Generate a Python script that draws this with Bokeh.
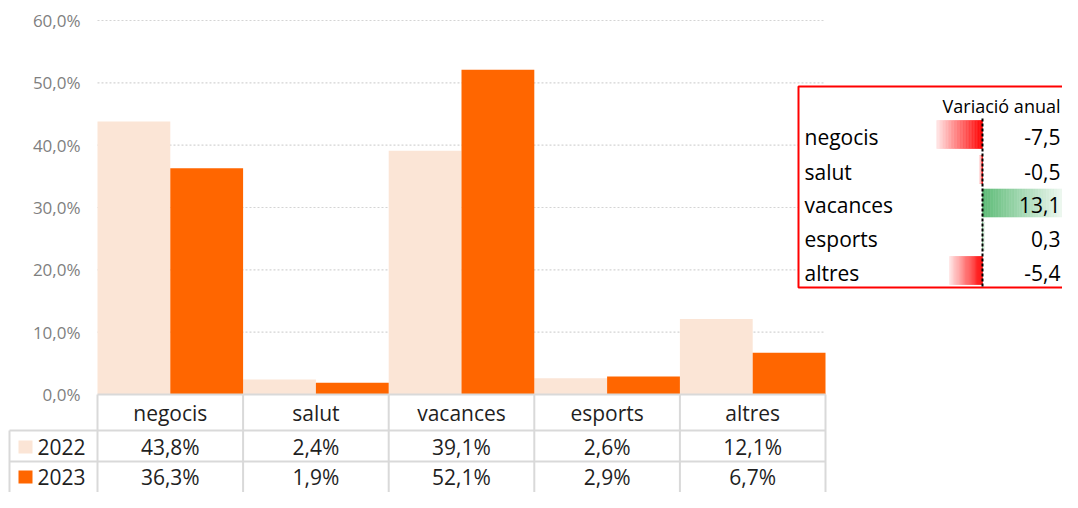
from bokeh.plotting import figure
from bokeh.models import Range1d, ColumnDataSource
from bokeh.transform import dodge
from bokeh.core.properties import value
from bokeh.embed import file_html
from bokeh.resources import INLINE

# ---------------- data ----------------
categories = ["negocis", "salut", "vacances", "esports", "altres"]
years = ["2022", "2023"]
v2022 = [43.8, 2.4, 39.1, 2.6, 12.1]
v2023 = [36.3, 1.9, 52.1, 2.9, 6.7]
variacio = [-7.5, -0.5, 13.1, 0.3, -5.4]
y_ticks = [0, 10, 20, 30, 40, 50, 60]
var_title = "Variació anual"

# ---------------- styles / layout ----------------
W, H = 1062, 492
FONT = "Open Sans"
C2022 = "#FBE5D6"
C2023 = "#FF6600"
GRID = "#d4d4d4"
TABLE_LINE = "#d9d9d9"
TXT = "#1f1f1f"
AXIS_TXT = "#7f7f7f"

# numeric scales: category index on x, percent on y
XS0, XS1 = -1.1662, 6.1277
Y0, Y1 = -15.722, 63.209
PX = (XS1 - XS0) / W
PY = (Y1 - Y0) / H


def dx(px):  # canvas pixel -> x data
    return XS0 + px * PX


def dy(py):  # canvas pixel -> y data
    return Y1 - py * PY


# secondary scale for the variation data bars
BOX_SHIFT = -12
ZERO_PX = 994 + BOX_SHIFT
UNIT_PX = 6.1
VS0, VS1 = -ZERO_PX / UNIT_PX, (W - ZERO_PX) / UNIT_PX

p = figure(width=W, height=H, x_range=Range1d(XS0, XS1), y_range=Range1d(Y0, Y1),
           output_backend="svg", toolbar_location=None, x_axis_type=None, y_axis_type=None,
           min_border=0, min_border_left=0, min_border_right=0, min_border_top=0, min_border_bottom=0)
p.extra_x_ranges = {"var": Range1d(VS0, VS1)}
p.outline_line_color = None
p.background_fill_color = "white"
p.border_fill_color = "white"

n = len(categories)
idx = list(range(n))

# dotted gridlines
grid_t = [t for t in y_ticks if t > 0]
p.segment(x0=[-0.5] * len(grid_t), x1=[n - 0.5] * len(grid_t), y0=grid_t, y1=grid_t,
          line_color=GRID, line_width=1.2, line_dash="2 2")

# bars
src = ColumnDataSource(dict(idx=idx, cat=categories, a=v2022, b=v2023))
p.vbar(x=dodge("idx", -0.25), top="a", bottom=0, width=0.5, source=src,
       fill_color=C2022, line_color=None)
p.vbar(x=dodge("idx", 0.25), top="b", bottom=0, width=0.5, source=src,
       fill_color=C2023, line_color=None)

# y tick labels
fmt = lambda v: f"{v:.1f}".replace(".", ",") + "%"
p.text(x=[dx(80)] * len(y_ticks), y=y_ticks, text=[fmt(t) for t in y_ticks],
       text_align="right", text_baseline="middle", text_color=AXIS_TXT,
       text_font=value(FONT), text_font_size="17px")

# data table lines
ybot = dy(520)
ROW1, ROW2 = 430, 461
row_lines = [(dx(97), 0), (dx(9), dy(ROW1)), (dx(9), dy(ROW2))]
p.segment(x0=[r[0] for r in row_lines], x1=[n - 0.5] * 3,
          y0=[r[1] for r in row_lines], y1=[r[1] for r in row_lines],
          line_color=TABLE_LINE, line_width=2)
vx = [i - 0.5 for i in range(n + 1)]
p.segment(x0=vx, x1=vx, y0=[0] * len(vx), y1=[ybot] * len(vx),
          line_color=TABLE_LINE, line_width=2)
p.segment(x0=[dx(9)], x1=[dx(9)], y0=[dy(ROW1)], y1=[ybot],
          line_color=TABLE_LINE, line_width=2)

# table texts
TY = [412, 446, 476]
p.text(x=idx, y=[dy(TY[0])] * n, text=categories, text_align="center", text_baseline="middle",
       text_color=TXT, text_font=value(FONT), text_font_size="21px")
p.text(x=idx, y=[dy(TY[1])] * n, text=[fmt(v) for v in v2022], text_align="center",
       text_baseline="middle", text_color=TXT, text_font=value(FONT), text_font_size="21px")
p.text(x=idx, y=[dy(TY[2])] * n, text=[fmt(v) for v in v2023], text_align="center",
       text_baseline="middle", text_color=TXT, text_font=value(FONT), text_font_size="21px")

# legend keys in table
p.quad(left=[dx(18)] * 2, right=[dx(32)] * 2,
       top=[dy(TY[1] - 6), dy(TY[2] - 6)], bottom=[dy(TY[1] + 7), dy(TY[2] + 7)],
       fill_color=[C2022, C2023], line_color=None)
p.text(x=[dx(37)] * 2, y=[dy(TY[1]), dy(TY[2])], text=years, text_align="left",
       text_baseline="middle", text_color=TXT, text_font=value(FONT), text_font_size="21px")

# ---------------- variation box ----------------
p.quad(left=[dx(810 + BOX_SHIFT)], right=[dx(1100)], top=[dy(86)], bottom=[dy(287)],
       fill_color="white", line_color="#FF0000", line_width=2)

row_c = [134, 169, 202.5, 236, 270]
bar_h = 28 * PY
N = 30


def mix(hexc, t):
    r, g, b = int(hexc[1:3], 16), int(hexc[3:5], 16), int(hexc[5:7], 16)
    r = int(r + (255 - r) * t)
    g = int(g + (255 - g) * t)
    b = int(b + (255 - b) * t)
    return f"#{r:02x}{g:02x}{b:02x}"


L, R, T, B, C = [], [], [], [], []
for v, rc in zip(variacio, row_c):
    base = "#FF0000" if v < 0 else "#5DBB77"
    for k in range(N):
        a0, a1 = v * k / N, v * (k + 1) / N
        L.append(min(a0, a1))
        R.append(max(a0, a1))
        T.append(dy(rc) + bar_h / 2)
        B.append(dy(rc) - bar_h / 2)
        C.append(mix(base, 0.9 * (k + 0.5) / N))
p.quad(left=L, right=R, top=T, bottom=B, fill_color=C, line_color=C, line_width=0.6,
       x_range_name="var")

p.segment(x0=[0], x1=[0], y0=[dy(118)], y1=[dy(286)], line_color="black", line_width=2,
          line_dash="3 2", x_range_name="var")

p.text(x=[dx(816 + BOX_SHIFT)] * n, y=[dy(rc + 2) for rc in row_c], text=categories,
       text_align="left", text_baseline="middle", text_color="black",
       text_font=value(FONT), text_font_size="21px")
p.text(x=[dx(1072 + BOX_SHIFT)] * n, y=[dy(rc + 2) for rc in row_c],
       text=[f"{v:.1f}".replace(".", ",") for v in variacio],
       text_align="right", text_baseline="middle", text_color="black",
       text_font=value(FONT), text_font_size="21px")
p.text(x=[dx(1072 + BOX_SHIFT)], y=[dy(105)], text=[var_title], text_align="right",
       text_baseline="middle", text_color="black", text_font=value(FONT), text_font_size="18px")

open("out.html", "w").write(file_html(p, INLINE))
